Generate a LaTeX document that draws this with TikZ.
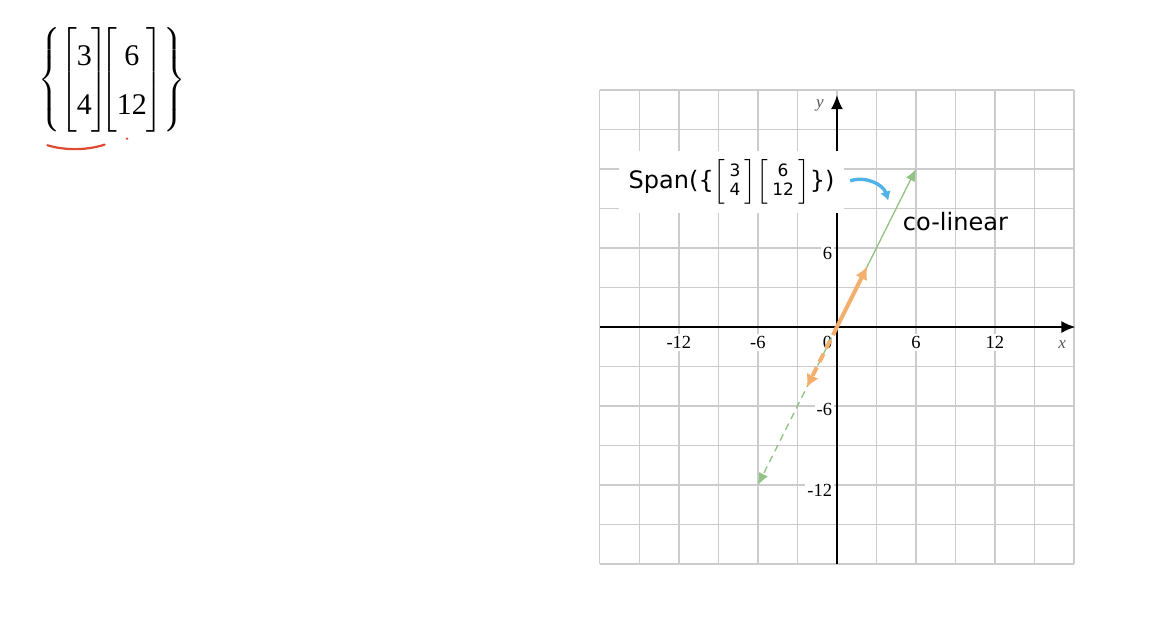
\documentclass[tikz,border=0pt]{standalone}
\usepackage{amsmath}
\usepackage{fontspec}
\newfontfamily\notefont{DejaVu Sans}
\newfontfamily\printfont{Liberation Serif}
\usetikzlibrary{arrows.meta,calc,positioning}
\definecolor{gridgray}{HTML}{CCCCCC}
\definecolor{spangreen}{HTML}{92C383}
\definecolor{vecorange}{HTML}{F3B06C}
\definecolor{markblue}{HTML}{4FB3E8}
\definecolor{markred}{HTML}{E04A30}
\definecolor{axisname}{HTML}{555560}
\tikzset{>=Latex,
  gridline/.style={draw=gridgray,line width=1.2pt},
  axis/.style={->,draw=black,line width=1.5pt,>={Latex[length=14pt,width=12pt]}},
  ticklabel/.style={font=\printfont\fontsize{18.5}{20}\selectfont,inner sep=2pt,fill=white},
  linevec/.style={->,draw=spangreen,line width=1.4pt,>={Latex[length=12pt,width=10pt]}},
  basevec/.style={->,draw=vecorange,line width=4pt,>={Latex[length=13pt,width=13pt]}},
  notebox/.style={fill=white,inner sep=0pt,minimum width=225pt,minimum height=62pt,font=\notefont\fontsize{24}{26}\selectfont}}
\newcommand\colvec[2]{$\left[\renewcommand\arraystretch{0.72}\begin{array}{@{\,}c@{\,}}\text{\notefont\fontsize{17}{17}\selectfont#1}\\\text{\notefont\fontsize{17}{17}\selectfont#2}\end{array}\right]$}
\begin{document}
\begin{tikzpicture}[x=13.17pt,y=13.17pt]
\path[use as bounding box,fill=white] (-63.55,-22.1) rectangle (23.77,24.83);

\node (set) at (-55.05,18.75) {\fontsize{30}{36}\selectfont\setlength\arraycolsep{3pt}$\left\{\renewcommand\arraystretch{1.35}\begin{bmatrix}\text{\printfont 3}\\\text{\printfont 4}\end{bmatrix}\!\!\!\begin{bmatrix}\text{\printfont 6}\\\text{\printfont 12}\end{bmatrix}\right\}$};
\coordinate (ulA) at (-59.95,13.8);\coordinate (ulB) at (-55.6,13.85);
\draw[markred,line width=2.2pt,line cap=round] (ulA) .. controls (-58.6,13.4) and (-57,13.4) .. (ulB);
\fill[markred] (-53.9,14.3) circle (1.3pt);

\draw[gridline] (-18,-18) grid[step=3] (18,18);
\node[ticklabel,anchor=north] (xm12) at (-12,-0.55) {-12};
\node[ticklabel,anchor=north] (xm6) at (-6,-0.55) {-6};
\node[ticklabel,anchor=north] (xp6) at (6,-0.55) {6};
\node[ticklabel,anchor=north] (xp12) at (12,-0.55) {12};
\node[ticklabel,anchor=north east] (zero) at (-0.2,-0.55) {0};
\node[ticklabel,anchor=east] (yp6) at (-0.2,5.6) {6};
\node[ticklabel,anchor=east] (ym6) at (-0.2,-6.25) {-6};
\node[ticklabel,anchor=east] (ym12) at (-0.2,-12.4) {-12};
\node[ticklabel,text=axisname,font=\printfont\fontsize{17}{19}\selectfont\itshape] (ylab) at (-1.3,16.85) {y};
\node[ticklabel,text=axisname,font=\printfont\fontsize{17}{19}\selectfont\itshape] (xlab) at (17.1,-1.37) {x};
\draw[axis] (-18,0)--(18.1,0);\draw[axis] (0,-18)--(0,17.6);

\coordinate (O) at (0,0);
\coordinate (u) at (2.3,4.6);\coordinate (v) at (6,12);
\coordinate (nu) at (-2.3,-4.6);\coordinate (nv) at (-6,-12);
\draw[linevec] (O)--(v);
\draw[linevec,dash pattern=on 7pt off 5pt] (O)--(nv);
\draw[basevec] (O)--(u);
\draw[basevec,dash pattern=on 9pt off 6pt] (O)--(nu);

\node[notebox] (span) at (-8.0,11.0) {Span(\{\colvec{3}{4}\colvec{6}{12}\})};
\coordinate (bendA) at (1.0,11.1);\coordinate (bendB) at (3.9,9.6);
\draw[->,markblue,line width=3.4pt,>={Latex[length=9pt,width=11pt]}] (bendA) to[bend left=45] (bendB);
\node[font=\notefont\fontsize{24}{26}\selectfont,anchor=west,inner sep=0pt] (colin) at (5.0,7.97) {co-linear};
\end{tikzpicture}
\end{document}
